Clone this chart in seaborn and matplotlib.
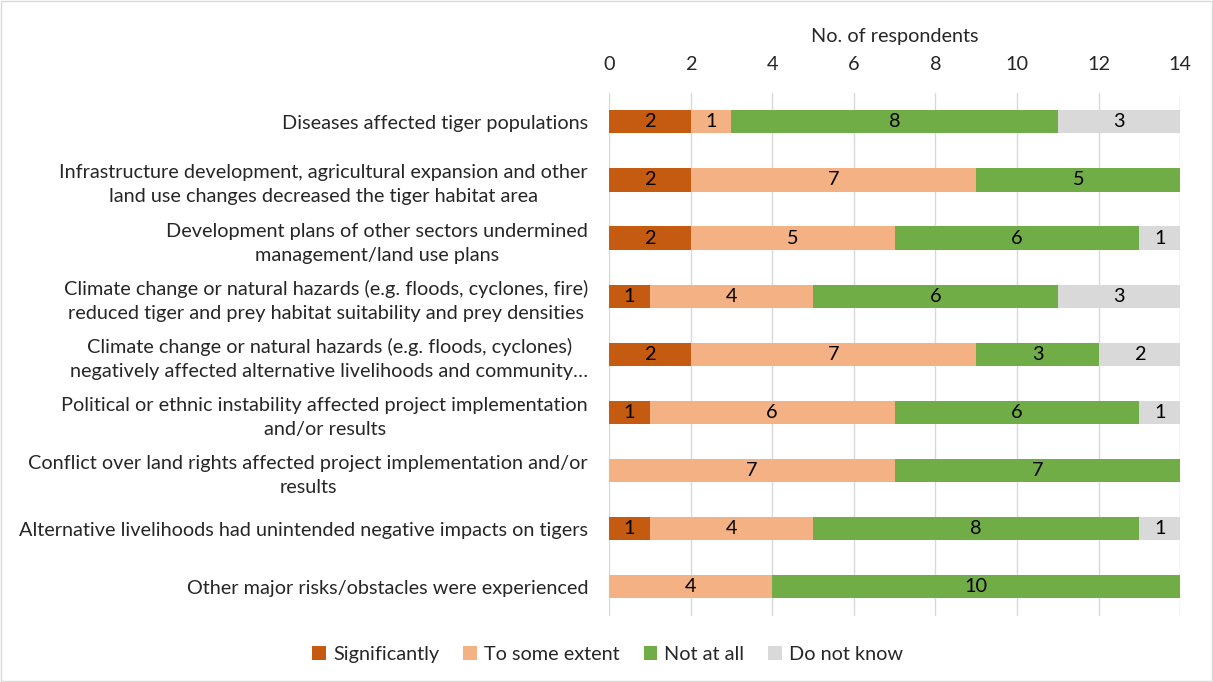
import numpy as np
import pandas as pd
import matplotlib
matplotlib.use("Agg")
import matplotlib.pyplot as plt
import seaborn as sns
from matplotlib.patches import Patch, Rectangle

categories = [
    "Diseases affected tiger populations",
    "Infrastructure development, agricultural expansion and other\nland use changes decreased the tiger habitat area",
    "Development plans of other sectors undermined\nmanagement/land use plans",
    "Climate change or natural hazards (e.g. floods, cyclones, fire)\nreduced tiger and prey habitat suitability and prey densities",
    "Climate change or natural hazards (e.g. floods, cyclones)\nnegatively affected alternative livelihoods and community\u2026",
    "Political or ethnic instability affected project implementation\nand/or results",
    "Conflict over land rights affected project implementation and/or\nresults",
    "Alternative livelihoods had unintended negative impacts on tigers",
    "Other major risks/obstacles were experienced",
]
series = ["Significantly", "To some extent", "Not at all", "Do not know"]
significantly = [2, 2, 2, 1, 2, 1, 0, 1, 0]
some_extent = [1, 7, 5, 4, 7, 6, 7, 4, 4]
not_at_all = [8, 5, 6, 6, 3, 6, 7, 8, 10]
do_not_know = [3, 0, 1, 3, 2, 1, 0, 1, 0]
colors = ["#C55A11", "#F4B183", "#70AD47", "#D9D9D9"]
x_ticks = [0, 2, 4, 6, 8, 10, 12, 14]

sns.set_style("white")
plt.rcParams["font.family"] = ["Lato", "DejaVu Sans"]
fs = 14.3

df = pd.DataFrame({"category": categories,
                   series[0]: significantly,
                   series[1]: some_extent,
                   series[2]: not_at_all,
                   series[3]: do_not_know})
values = df[series].to_numpy()
cum = values.cumsum(axis=1)

fig = plt.figure(figsize=(12.13, 6.82), dpi=100)
ax = fig.add_axes([0.502, 0.097, 0.471, 0.767])

# stacked bars: draw cumulative totals from the back to the front
for j in range(len(series) - 1, -1, -1):
    sns.barplot(x=cum[:, j], y=df["category"], color=colors[j], orient="h",
                width=0.4, saturation=1, ax=ax, linewidth=0)

for i in range(len(categories)):
    for j in range(len(series)):
        v = values[i, j]
        if v > 0:
            ax.text(cum[i, j] - v / 2, i, str(v), ha="center", va="center",
                    fontsize=fs, color="#000000")

ax.set_xlim(0, 14)
ax.set_ylim(len(categories) - 0.5, -0.5)
ax.set_xticks(x_ticks)
ax.xaxis.tick_top()
ax.xaxis.set_label_position("top")
ax.set_xlabel("No. of respondents", fontsize=fs, labelpad=10)
ax.set_ylabel("")
ax.tick_params(axis="x", length=0, labelsize=fs, pad=14)
ax.tick_params(axis="y", length=0, labelsize=fs, pad=15)
for lab in ax.get_yticklabels():
    lab.set_multialignment("center")
    lab.set_linespacing(1.5)
ax.grid(axis="x", color="#D9D9D9", linewidth=1)
ax.set_axisbelow(True)
sns.despine(ax=ax, left=True, bottom=True, top=True, right=True)

handles = [Patch(facecolor=c, edgecolor="none") for c in colors]
fig.legend(handles, series, loc="center", bbox_to_anchor=(0.501, 0.041),
           ncol=4, frameon=False, fontsize=fs, handlelength=0.7,
           handleheight=0.7, handletextpad=0.35, columnspacing=1.2)

fig.patches.append(Rectangle((0.001, 0.001), 0.998, 0.997, transform=fig.transFigure,
                             fill=False, edgecolor="#D9D9D9", linewidth=1))

fig.savefig("out.png", dpi=100)
